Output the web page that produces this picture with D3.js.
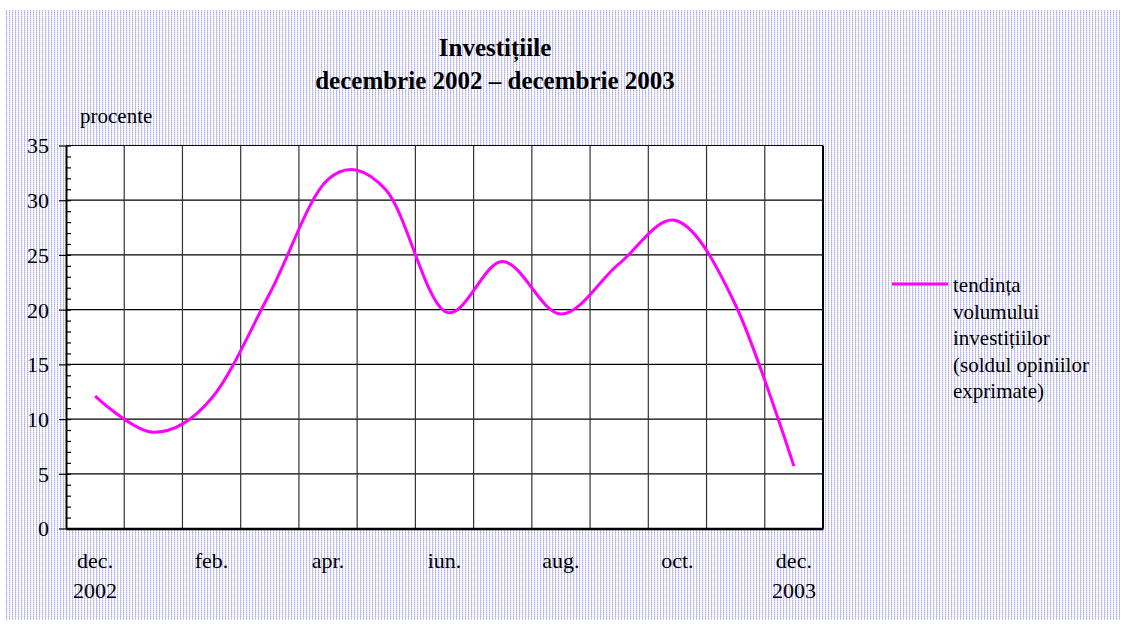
<!DOCTYPE html>
<html>
<head>
<meta charset="utf-8">
<script src="https://cdn.jsdelivr.net/npm/d3@7"></script>
<style>
  body { margin: 0; background: #fff; }
  text { font-family: "Liberation Serif", "Times New Roman", serif; fill: #000; }
</style>
</head>
<body>
<div id="chart"></div>
<script>
// luni (dec. 2002 - dec. 2003)
var months = ["dec.", "ian.", "feb.", "mar.", "apr.", "mai", "iun.", "iul.", "aug.", "sep.", "oct.", "nov.", "dec."];
var years = ["2002", "", "", "", "", "", "", "", "", "", "", "", "2003"];
// soldul opiniilor exprimate (procente)
var values = [12.1, 8.8, 11.9, 21.5, 31.9, 30.9, 19.85, 24.4, 19.6, 24.2, 28.1, 20.4, 5.7];
var yTicks = [0, 5, 10, 15, 20, 25, 30, 35];
var titleLines = ["Investițiile", "decembrie 2002 – decembrie 2003"];
var legendLines = ["tendința", "volumului", "investițiilor", "(soldul opiniilor", "exprimate)"];

var width = 1126, height = 624;
var plot = {left: 66, right: 823, top: 145.5, bottom: 528.5};

var svg = d3.select("#chart").append("svg")
    .attr("width", width)
    .attr("height", height);

// fond punctat
var pat = svg.append("defs").append("pattern")
    .attr("id", "dots")
    .attr("width", 3).attr("height", 2)
    .attr("patternUnits", "userSpaceOnUse");
pat.append("rect").attr("width", 3).attr("height", 2).attr("fill", "#fff");
pat.append("rect").attr("x", 0).attr("y", 0).attr("width", 1).attr("height", 1).attr("fill", "#aeaeec");
pat.append("rect").attr("x", 0).attr("y", 1).attr("width", 1).attr("height", 1).attr("fill", "#cfcff4");
pat.append("rect").attr("x", 1).attr("y", 0).attr("width", 1).attr("height", 1).attr("fill", "#ececfb");

svg.append("rect")
    .attr("x", 6).attr("y", 10)
    .attr("width", 1114).attr("height", 610)
    .attr("fill", "url(#dots)");

// zona graficului
svg.append("rect")
    .attr("x", plot.left).attr("y", plot.top)
    .attr("width", plot.right - plot.left).attr("height", plot.bottom - plot.top)
    .attr("fill", "#fff");

var idx = d3.range(months.length);
var x = d3.scaleBand().domain(idx).range([plot.left, plot.right]).padding(0);
var y = d3.scaleLinear().domain([0, 35]).range([plot.bottom, plot.top]);

// grila orizontala
svg.append("g").selectAll("line")
    .data(yTicks.slice(1))
    .enter().append("line")
    .attr("x1", plot.left).attr("x2", plot.right)
    .attr("y1", function(d) { return y(d); })
    .attr("y2", function(d) { return y(d); })
    .attr("stroke", "#000").attr("stroke-width", 1.2);

// grila verticala
svg.append("g").selectAll("line")
    .data(idx.slice(1))
    .enter().append("line")
    .attr("x1", function(d) { return x(d); })
    .attr("x2", function(d) { return x(d); })
    .attr("y1", plot.top).attr("y2", plot.bottom)
    .attr("stroke", "#333").attr("stroke-width", 1.2);

// bordura dreapta
svg.append("line")
    .attr("x1", plot.right).attr("x2", plot.right)
    .attr("y1", plot.top).attr("y2", plot.bottom)
    .attr("stroke", "#000").attr("stroke-width", 2);

// axa Y
var yAxis = svg.append("g")
    .attr("transform", "translate(" + plot.left + ",0)")
    .call(d3.axisLeft(y).tickValues(yTicks).tickSize(7).tickSizeOuter(0).tickPadding(10));
yAxis.select(".domain").attr("stroke", "#000").attr("stroke-width", 2);
yAxis.selectAll(".tick line").attr("stroke", "#000").attr("stroke-width", 1.2);
yAxis.selectAll("text")
    .style("font-family", '"Liberation Serif", serif')
    .style("font-size", "22px")
    .attr("dy", "0.34em");

// gradatii secundare
var minor = svg.append("g")
    .attr("transform", "translate(" + plot.left + ",0)")
    .call(d3.axisRight(y).tickValues(d3.range(0, 36, 1)).tickSize(5).tickFormat(""));
minor.select(".domain").remove();
minor.selectAll(".tick line").attr("stroke", "#000").attr("stroke-width", 1.2);

// axa X
var xAxis = svg.append("g")
    .attr("transform", "translate(0," + plot.bottom + ")")
    .call(d3.axisBottom(x).tickSize(0).tickSizeOuter(0).tickFormat(""));
xAxis.select(".domain").attr("stroke", "#000").attr("stroke-width", 2.5);
xAxis.selectAll(".tick").each(function(d) {
    if (d % 2 !== 0) return;
    var t = d3.select(this).append("text")
        .attr("text-anchor", "middle")
        .style("font-size", "22px");
    t.append("tspan").attr("x", 0).attr("y", 39).text(months[d]);
    if (years[d]) t.append("tspan").attr("x", 0).attr("y", 69).text(years[d]);
});

// linia
var line = d3.line()
    .x(function(d, i) { return x(i) + x.bandwidth() / 2; })
    .y(function(d) { return y(d); })
    .curve(d3.curveCardinal.tension(0));

svg.append("path")
    .datum(values)
    .attr("d", line)
    .attr("fill", "none")
    .attr("stroke", "#ff00ff")
    .attr("stroke-width", 3);

// titlu
svg.append("text")
    .attr("text-anchor", "middle")
    .style("font-size", "25px")
    .style("font-weight", "bold")
    .selectAll("tspan")
    .data(titleLines)
    .enter().append("tspan")
    .attr("x", 495)
    .attr("y", function(d, i) { return 56 + i * 33; })
    .text(function(d) { return d; });

svg.append("text")
    .attr("x", 80).attr("y", 123)
    .style("font-size", "21px")
    .text("procente");

// legenda
svg.append("line")
    .attr("x1", 892).attr("x2", 948)
    .attr("y1", 284).attr("y2", 284)
    .attr("stroke", "#ff00ff").attr("stroke-width", 3);

svg.append("text")
    .style("font-size", "21px")
    .selectAll("tspan")
    .data(legendLines)
    .enter().append("tspan")
    .attr("x", 953)
    .attr("y", function(d, i) { return 292 + i * 26.5; })
    .text(function(d) { return d; });
</script>
</body>
</html>
